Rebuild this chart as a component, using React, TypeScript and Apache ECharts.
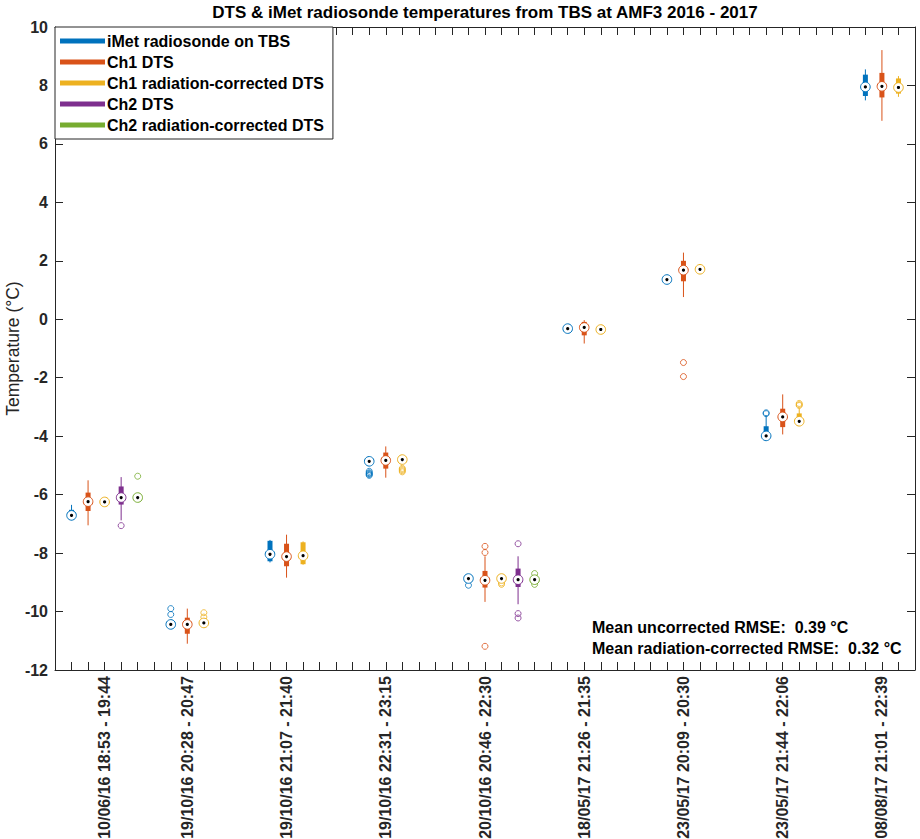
import { useEffect, useRef } from 'react';
import * as echarts from 'echarts';

const categories = [
    '10/06/16 18:53 - 19:44',
    '19/10/16 20:28 - 20:47',
    '19/10/16 21:07 - 21:40',
    '19/10/16 22:31 - 23:15',
    '20/10/16 20:46 - 22:30',
    '18/05/17 21:26 - 21:35',
    '23/05/17 20:09 - 20:30',
    '23/05/17 21:44 - 22:06',
    '08/08/17 21:01 - 22:39',
];
// x slot where each category label sits
const labelSlots = [3, 8, 14, 20, 26, 32, 38, 44, 50];

const seriesNames = [
    'iMet radiosonde on TBS',
    'Ch1 DTS',
    'Ch1 radiation-corrected DTS',
    'Ch2 DTS',
    'Ch2 radiation-corrected DTS',
];
const seriesColors = ['#0072BD', '#D95319', '#EDB120', '#7E2F8E', '#77AC30'];

// [min, q1, median, q3, max] per category, null = no data
const imetStats = [
    [-6.88, -6.85, -6.71, -6.52, -6.35],
    [-10.58, -10.55, -10.44, -10.32, -10.28],
    [-8.32, -8.28, -8.04, -7.58, -7.55],
    [-4.9, -4.88, -4.86, -4.84, -4.82],
    [-8.95, -8.92, -8.87, -8.84, -8.8],
    [-0.36, -0.34, -0.32, -0.3, -0.28],
    [1.25, 1.27, 1.36, 1.38, 1.4],
    [-4.05, -4.03, -3.99, -3.66, -3.29],
    [7.49, 7.64, 7.95, 8.37, 8.55],
];
const ch1Stats = [
    [-7.05, -6.56, -6.24, -5.93, -5.51],
    [-11.1, -10.76, -10.44, -10.21, -9.9],
    [-8.84, -8.45, -8.12, -7.68, -7.37],
    [-5.42, -5.11, -4.83, -4.56, -4.35],
    [-9.67, -9.18, -8.93, -8.61, -8.11],
    [-0.83, -0.55, -0.28, -0.09, -0.03],
    [0.76, 1.3, 1.68, 2.0, 2.28],
    [-3.94, -3.69, -3.34, -3.06, -2.57],
    [6.79, 7.59, 7.97, 8.43, 9.21],
];
const ch1CorrStats = [
    [-6.3, -6.28, -6.25, -6.22, -6.2],
    [-10.5, -10.46, -10.39, -10.33, -10.28],
    [-8.4, -8.38, -8.09, -7.63, -7.6],
    [-4.86, -4.84, -4.8, -4.77, -4.74],
    [-8.95, -8.92, -8.87, -8.83, -8.8],
    [-0.4, -0.38, -0.35, -0.32, -0.3],
    [1.64, 1.67, 1.71, 1.74, 1.77],
    [-3.52, -3.5, -3.49, -3.22, -3.05],
    [7.61, 7.72, 7.93, 8.24, 8.32],
];
const ch2Stats = [
    [-6.88, -6.34, -6.1, -5.72, -5.4],
    null, null, null,
    [-9.75, -9.16, -8.91, -8.53, -8.11],
    null, null, null, null,
];
const ch2CorrStats = [
    [-6.18, -6.15, -6.1, -6.02, -5.95],
    null, null, null,
    [-8.98, -8.95, -8.91, -8.87, -8.84],
    null, null, null, null,
];

// outliers: [category index, value]
const imetOutliers = [
    [1, -10.1], [1, -9.9],
    [3, -5.2], [3, -5.25], [3, -5.28], [3, -5.31], [3, -5.34],
    [4, -9.1],
    [7, -3.2], [7, -3.23],
];
const ch1Outliers = [
    [4, -7.77], [4, -7.98], [4, -11.19],
    [6, -1.48], [6, -1.96],
];
const ch1CorrOutliers = [
    [1, -10.04], [1, -10.19],
    [3, -5.1], [3, -5.14], [3, -5.18], [3, -5.22],
    [4, -9.02], [4, -9.07],
    [7, -2.88], [7, -2.92], [7, -2.95],
];
const ch2Outliers = [
    [0, -7.06],
    [4, -7.68], [4, -10.07], [4, -10.22],
];
const ch2CorrOutliers = [
    [0, -5.37],
    [4, -8.7], [4, -9.07],
];

const allStats = [imetStats, ch1Stats, ch1CorrStats, ch2Stats, ch2CorrStats];
const allOutliers = [imetOutliers, ch1Outliers, ch1CorrOutliers, ch2Outliers, ch2CorrOutliers];

const FONT = 'Liberation Sans';
const AXIS_COLOR = '#262626';

const makeBox = (color: string) => (_params: any, api: any) => {
    const x = api.value(0);
    const lo = api.coord([x, api.value(1)]);
    const q1 = api.coord([x, api.value(2)]);
    const med = api.coord([x, api.value(3)]);
    const q3 = api.coord([x, api.value(4)]);
    const hi = api.coord([x, api.value(5)]);
    return {
        type: 'group',
        children: [
            { type: 'line', shape: { x1: hi[0], y1: hi[1], x2: lo[0], y2: lo[1] }, style: { stroke: color, lineWidth: 1 } },
            { type: 'line', shape: { x1: q3[0], y1: q3[1], x2: q1[0], y2: q1[1] }, style: { stroke: color, lineWidth: 5 } },
            { type: 'circle', shape: { cx: med[0], cy: med[1], r: 4.8 }, style: { fill: '#fff', stroke: color, lineWidth: 1 } },
            { type: 'circle', shape: { cx: med[0], cy: med[1], r: 1.6 }, style: { fill: '#000' } },
        ],
    };
};

const textStyle = {
    fontFamily: FONT,
    fontWeight: 'bold',
    fontSize: 16,
    fill: '#000',
};

const App = () => {
    const chartRef = useRef<HTMLDivElement | null>(null);

    useEffect(() => {
        if (!chartRef.current) return;
        const myChart = echarts.init(chartRef.current, null, { renderer: 'svg' });

        const boxSeries = allStats.map((stats, g) => ({
            name: seriesNames[g],
            type: 'custom',
            renderItem: makeBox(seriesColors[g]),
            itemStyle: { color: seriesColors[g] },
            encode: { x: 0, y: [1, 2, 3, 4, 5] },
            data: stats
                .map((s, i) => (s ? [6 * i + g + 1, ...s] : null))
                .filter((d) => d !== null),
            z: 3,
        }));

        const outlierSeries = allOutliers.map((pts, g) => ({
            name: seriesNames[g],
            type: 'scatter',
            symbol: 'circle',
            symbolSize: 6,
            itemStyle: { color: 'rgba(255,255,255,0)', borderColor: seriesColors[g], borderWidth: 1 },
            data: pts.map(([i, v]) => [6 * i + g + 1, v]),
            z: 2,
        }));

        const axisLine = { show: true, onZero: false, lineStyle: { color: AXIS_COLOR, width: 1 } };
        const axisTick = { show: true, inside: true, length: 8, lineStyle: { color: AXIS_COLOR } };

        const option = {
            animation: false,
            backgroundColor: '#fff',
            grid: { left: 55, right: 5, top: 27, bottom: 169, containLabel: false, outerBoundsMode: 'none' },
            xAxis: [
                {
                    type: 'value',
                    position: 'bottom',
                    min: 0,
                    max: 52,
                    interval: 1,
                    axisLine,
                    axisTick,
                    splitLine: { show: false },
                    axisLabel: {
                        rotate: 90,
                        margin: 6,
                        color: AXIS_COLOR,
                        fontFamily: FONT,
                        fontWeight: 'bold',
                        fontSize: 16,
                        formatter: (v: number) => {
                            const k = labelSlots.indexOf(v);
                            return k >= 0 ? categories[k] : '';
                        },
                    },
                },
                {
                    type: 'value',
                    position: 'top',
                    min: 0,
                    max: 52,
                    interval: 1,
                    axisLine,
                    axisTick,
                    splitLine: { show: false },
                    axisLabel: { show: false },
                },
            ],
            yAxis: [
                {
                    type: 'value',
                    position: 'left',
                    min: -12,
                    max: 10,
                    interval: 2,
                    axisLine,
                    axisTick,
                    splitLine: { show: false },
                    axisLabel: { margin: 7, color: AXIS_COLOR, fontFamily: FONT, fontWeight: 'bold', fontSize: 16 },
                    name: 'Temperature (°C)',
                    nameLocation: 'middle',
                    nameGap: 33,
                    nameMoveOverlap: false,
                    nameTextStyle: { color: AXIS_COLOR, fontFamily: FONT, fontSize: 17.5 },
                },
                {
                    type: 'value',
                    position: 'right',
                    min: -12,
                    max: 10,
                    interval: 2,
                    axisLine,
                    axisTick,
                    splitLine: { show: false },
                    axisLabel: { show: false },
                },
            ],
            legend: {
                data: seriesNames,
                orient: 'vertical',
                left: 55,
                top: 27,
                icon: 'rect',
                itemWidth: 45,
                itemHeight: 5,
                itemGap: 5,
                padding: [6, 9, 6, 5],
                backgroundColor: '#fff',
                borderColor: AXIS_COLOR,
                borderWidth: 1,
                borderRadius: 0,
                selectedMode: false,
                textStyle: { color: '#000', fontFamily: FONT, fontWeight: 'bold', fontSize: 16, padding: [0, 0, 0, -3] },
            },
            graphic: [
                {
                    type: 'text',
                    x: 485,
                    y: 12,
                    style: {
                        ...textStyle,
                        fontSize: 17,
                        text: 'DTS & iMet radiosonde temperatures from TBS at AMF3 2016 - 2017',
                        align: 'center',
                        verticalAlign: 'middle',
                    },
                },
                {
                    type: 'text',
                    x: 592,
                    y: 627,
                    style: { ...textStyle, text: 'Mean uncorrected RMSE:  0.39 °C', verticalAlign: 'middle' },
                },
                {
                    type: 'text',
                    x: 592,
                    y: 648,
                    style: { ...textStyle, text: 'Mean radiation-corrected RMSE:  0.32 °C', verticalAlign: 'middle' },
                },
            ],
            series: [...boxSeries, ...outlierSeries],
        };

        myChart.setOption(option as any);

        return () => {
            myChart.dispose();
        };
    }, []);

    return (
        <div
            ref={chartRef}
            style={{ position: 'absolute', left: 0, top: 0, width: '920px', height: '839px' }}
        />
    );
};

export default App;
